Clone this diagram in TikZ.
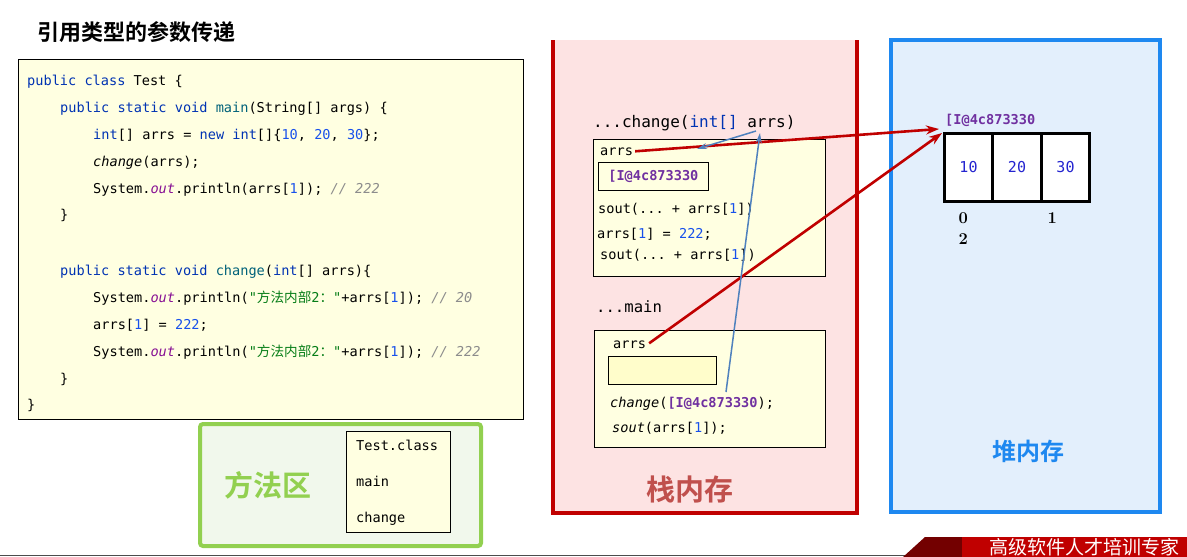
\documentclass[tikz,border=0pt]{standalone}
\usepackage{fontspec}
\setmonofont{DejaVu Sans Mono}
\newfontfamily\cjk{Noto Sans CJK SC}
\newfontfamily\cjkb{Noto Sans CJK SC Bold}
\usetikzlibrary{arrows.meta}
\definecolor{kw}{HTML}{0033B3}
\definecolor{nm}{HTML}{1750EB}
\definecolor{fn}{HTML}{00627A}
\definecolor{ot}{HTML}{871094}
\definecolor{sg}{HTML}{067D17}
\definecolor{cm}{HTML}{8C8C8C}
\definecolor{ad}{HTML}{7030A0}
\definecolor{codebg}{HTML}{FFFFE1}
\definecolor{boxbg}{HTML}{FFFDCB}
\definecolor{mgreen}{HTML}{92D050}
\definecolor{mgreenbg}{HTML}{F1F8EC}
\definecolor{sred}{HTML}{C00000}
\definecolor{sredbg}{HTML}{FDE3E3}
\definecolor{stxt}{HTML}{C0504D}
\definecolor{hblue}{HTML}{1E88F0}
\definecolor{hbluebg}{HTML}{E3EFFC}
\definecolor{arrblue}{HTML}{4F81BD}
\definecolor{cellnum}{HTML}{2424D0}
\newcommand\Kw[1]{\textcolor{kw}{#1}}
\newcommand\Nm[1]{\textcolor{nm}{#1}}
\newcommand\Fn[1]{\textcolor{fn}{#1}}
\newcommand\Ot[1]{\textcolor{ot}{\itshape #1}}
\newcommand\Sg[1]{\textcolor{sg}{#1}}
\newcommand\Cm[1]{\textcolor{cm}{\itshape #1}}
\newcommand\Ad[1]{\textcolor{ad}{\bfseries #1}}
\begin{document}
\begin{tikzpicture}[x=1pt,y=-1pt,
  code/.style={anchor=base west,inner sep=0pt,font=\ttfamily\fontsize{13.6}{16}\selectfont},
  bigcode/.style={anchor=base west,inner sep=0pt,font=\ttfamily\fontsize{16}{19}\selectfont},
  frame/.style={draw=black,line width=0.8pt,fill=codebg,inner sep=0pt},
  cell/.style={draw=black,line width=3pt,fill=white,minimum width=48.5pt,minimum height=68pt,inner sep=0pt,
    text=cellnum,font=\ttfamily\fontsize{15}{18}\selectfont},
  idx/.style={anchor=base west,inner sep=0pt,font=\bfseries\fontsize{16.5}{19}\selectfont},
  redarrow/.style={draw=sred,line width=2.6pt,-{Stealth[length=13pt,width=9pt]}},
  bluearrow/.style={draw=arrblue,line width=1.5pt,-{Stealth[length=10pt,width=6pt]}}
]
\useasboundingbox (0,0) rectangle (1187,557);
\fill[white] (0,0) rectangle (1187,557);

% title
\node[anchor=west,inner sep=0pt,font=\cjkb\fontsize{22}{24}\selectfont] (title) at (37,32) {引用类型的参数传递};

% code box
\node[frame,anchor=north west,minimum width=505pt,minimum height=360pt] (codebox) at (18,59) {};
\node[code] (l1) at (27,85) {\Kw{public class} Test \{};
\node[code] (l2) at (60,112) {\Kw{public static void} \Fn{main}(String[] args) \{};
\node[code] (l3) at (93,139) {\Kw{int}[] arrs = \Kw{new int}[]\{\Nm{10}, \Nm{20}, \Nm{30}\};};
\node[code] (l4) at (93,166) {{\itshape change}(arrs);};
\node[code] (l5) at (93,193) {System.\Ot{out}.println(arrs[\Nm{1}]); \Cm{// 222}};
\node[code] (l6) at (60,219) {\}};
\node[code] (l8) at (60,275) {\Kw{public static void} \Fn{change}(\Kw{int}[] arrs)\{};
\node[code] (l9) at (93,302) {System.\Ot{out}.println(\Sg{"{\cjk 方法内部}2{\cjk ：}"}+arrs[\Nm{1}]); \Cm{// 20}};
\node[code] (l10) at (93,329) {arrs[\Nm{1}] = \Nm{222};};
\node[code] (l11) at (93,356) {System.\Ot{out}.println(\Sg{"{\cjk 方法内部}2{\cjk ：}"}+arrs[\Nm{1}]); \Cm{// 222}};
\node[code] (l12) at (60,383) {\}};
\node[code] (l13) at (27,409) {\}};

% method area
\draw[mgreen,line width=4pt,fill=mgreenbg,rounded corners=3pt] (200,424) rectangle (481,546);
\node[inner sep=0pt,text=mgreen,font=\cjkb\fontsize{29}{32}\selectfont] (mlabel) at (268,485) {方法区};
\node[frame,anchor=north west,minimum width=104pt,minimum height=101pt] (clsbox) at (346,431) {};
\node[code] (mt1) at (356,450) {Test.class};
\node[code] (mt2) at (356,486) {main};
\node[code] (mt3) at (356,522) {change};

% stack
\fill[sredbg] (553,40) rectangle (857,513);
\draw[sred,line width=4pt] (553,40) -- (553,513) -- (857,513) -- (857,40);
\node[inner sep=0pt,text=stxt,font=\cjkb\fontsize{29}{32}\selectfont] (slabel) at (690,490) {栈内存};

\node[bigcode] (sig) at (593,127) {...change(\Kw{int[]} arrs)};
\node[frame,anchor=north west,minimum width=232pt,minimum height=137pt] (cframe) at (593,139) {};
\node[code] (carrs) at (600,155) {arrs};
\node[frame,anchor=north west,minimum width=110pt,minimum height=28pt,font=\ttfamily\fontsize{13.6}{16}\selectfont] (caddr) at (598,162) {\Ad{[I@4c873330}};
\node[code] (cs1) at (598,213) {sout(... + arrs[\Nm{1}])};
\node[code] (cs2) at (597,238) {arrs[\Nm{1}] = \Nm{222};};
\node[code] (cs3) at (600,259) {sout(... + arrs[\Nm{1}])};

\node[bigcode,font=\ttfamily\fontsize{15.6}{18}\selectfont] (mainsig) at (596,312) {...main};
\node[frame,anchor=north west,minimum width=231pt,minimum height=117pt] (mframe) at (594,330) {};
\node[code] (marrs) at (613,348) {arrs};
\node[draw=black,line width=0.8pt,fill=boxbg,anchor=north west,minimum width=108pt,minimum height=28pt,inner sep=0pt] (mslot) at (608,356) {};
\node[code] (mc1) at (610,407) {{\itshape change}(\Ad{[I@4c873330});};
\node[code] (mc2) at (612,432) {{\itshape sout}(arrs[\Nm{1}]);};

% heap
\draw[hblue,line width=3.5pt,fill=hbluebg] (891,40) rectangle (1160,512);
\node[code] (haddr) at (945,124) {\Ad{[I@4c873330}};
\node[cell] (c0) at (968.5,167) {10};
\node[cell] (c1) at (1017,167) {20};
\node[cell] (c2) at (1065.5,167) {30};
\node[idx] (i0) at (958.5,223) {0};
\node[idx] (i1) at (1047.5,223) {1};
\node[idx] (i2) at (958.5,244) {2};
\node[inner sep=0pt,text=hblue,font=\cjkb\fontsize{24}{27}\selectfont] (hlabel) at (1028,451) {堆内存};

% arrow end points
\coordinate (hp1) at (939,129);
\coordinate (hp2) at (942,133);
\coordinate (callpt) at (726,392);
\coordinate (sigarrs) at (760,133);
\coordinate (sigarrs2) at (756,131);
\coordinate (carrspt) at (697,149);

\draw[redarrow] ([xshift=2pt]carrs.east) -- (hp1);
\draw[redarrow] ([xshift=3pt,yshift=1pt]marrs.east) -- (hp2);
\draw[bluearrow] (callpt) -- (sigarrs);
\draw[bluearrow] (sigarrs2) -- (carrspt);

% bottom rule and banner
\draw[black!70,line width=1.5pt] (0,555.5) -- (1187,555.5);
\fill[sred!60!black] (903,557) -- (925,537) -- (966,537) -- (966,557) -- cycle;
\fill[sred] (962,537) rectangle (1187,557);
\node[inner sep=0pt,text=white,font=\cjk\fontsize{19}{20}\selectfont] (banner) at (1084,547) {高级软件人才培训专家};
\end{tikzpicture}
\end{document}
